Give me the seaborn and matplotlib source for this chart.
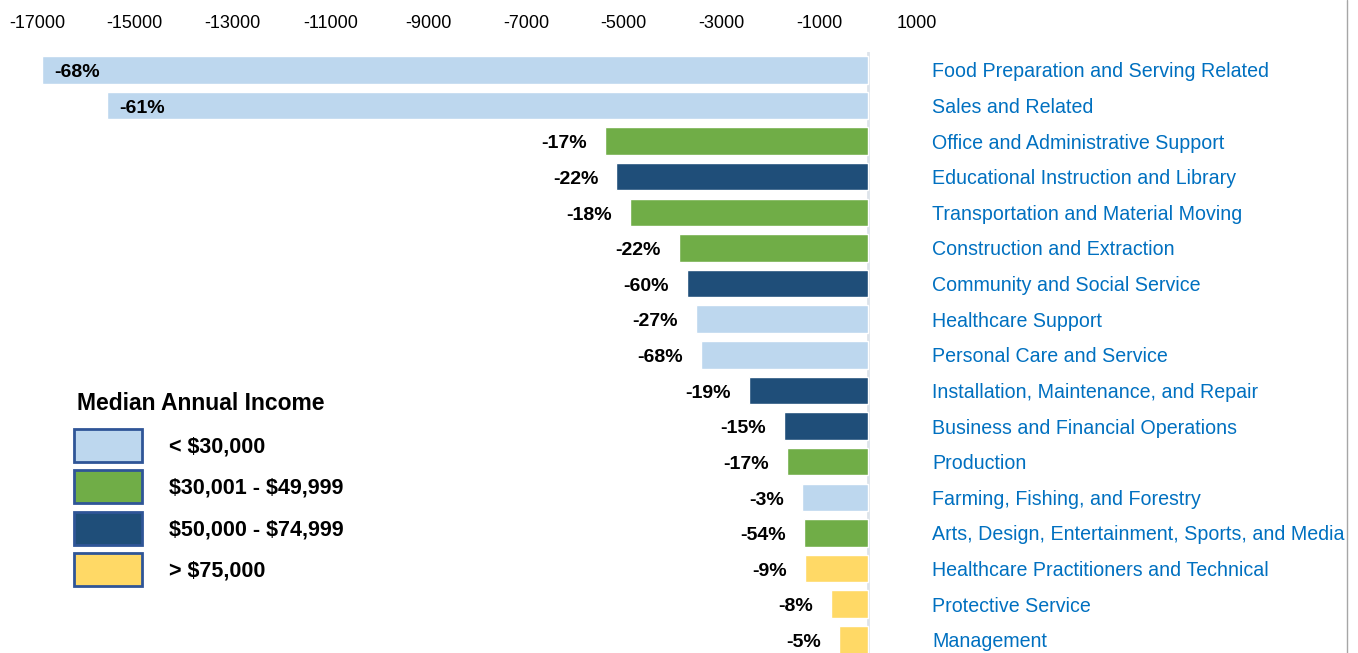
import matplotlib
matplotlib.use("Agg")
import matplotlib.pyplot as plt
from matplotlib import font_manager
from matplotlib.patches import Patch
from matplotlib.lines import Line2D
import seaborn as sns
import pandas as pd

occupations = [
    "Food Preparation and Serving Related",
    "Sales and Related",
    "Office and Administrative Support",
    "Educational Instruction and Library",
    "Transportation and Material Moving",
    "Construction and Extraction",
    "Community and Social Service",
    "Healthcare Support",
    "Personal Care and Service",
    "Installation, Maintenance, and Repair",
    "Business and Financial Operations",
    "Production",
    "Farming, Fishing, and Forestry",
    "Arts, Design, Entertainment, Sports, and Media",
    "Healthcare Practitioners and Technical",
    "Protective Service",
    "Management",
]
changes = [-16900, -15570, -5390, -5150, -4880, -3870, -3710, -3530, -3420,
           -2440, -1730, -1660, -1360, -1320, -1300, -760, -600]
pct_labels = ["-68%", "-61%", "-17%", "-22%", "-18%", "-22%", "-60%", "-27%", "-68%",
              "-19%", "-15%", "-17%", "-3%", "-54%", "-9%", "-8%", "-5%"]
income_levels = ["< $30,000", "$30,001 - $49,999", "$50,000 - $74,999", "> $75,000"]
income = [0, 0, 1, 2, 1, 1, 2, 0, 0, 2, 2, 1, 0, 1, 3, 3, 3]
colors = ["#BDD7EE", "#70AD47", "#1F4E79", "#FFD966"]
xticks = list(range(-17000, 1001, 2000))
legend_title = "Median Annual Income"

available = {f.name for f in font_manager.fontManager.ttflist}
narrow = "Liberation Sans Narrow" if "Liberation Sans Narrow" in available else "Liberation Sans"

df = pd.DataFrame({
    "occupation": occupations,
    "change": changes,
    "income": [income_levels[i] for i in income],
})

sns.set_style("white")
plt.rcParams["font.family"] = [narrow, "DejaVu Sans"]

W, H = 1358, 653
fig = plt.figure(figsize=(W / 100, H / 100), dpi=100)
ax = fig.add_axes([0, 0, 917 / W, (H - 52) / H])

sns.barplot(data=df, x="change", y="occupation", hue="income",
            hue_order=income_levels, palette=colors, dodge=False,
            width=0.77, orient="h", ax=ax, legend=False, saturation=1)

ax.set_xlim(-17757, 1000)
ax.set_ylim(16.37, -0.5)
ax.set_xlabel("")
ax.set_ylabel("")
for s in ax.spines.values():
    s.set_visible(False)

ax.xaxis.tick_top()
ax.set_xticks(xticks)
ax.set_xticklabels([str(t) for t in xticks])
ax.tick_params(axis="x", length=0, pad=14.5, labelsize=13, labelcolor="#000000")

ax.yaxis.tick_right()
ax.tick_params(axis="y", length=0, pad=11, labelsize=14.1, labelcolor="#0070C0")
for lab in ax.get_yticklabels():
    lab.set_horizontalalignment("left")

ax.axvline(0, color="#DDE3EA", lw=2, zorder=0)

for i, (v, p) in enumerate(zip(changes, pct_labels)):
    if i < 2:
        ax.annotate(p, (v, i), xytext=(9, -2), textcoords="offset points",
                    ha="left", va="center", fontsize=14, fontweight="bold", color="black")
    else:
        ax.annotate(p, (v, i), xytext=(-13, -2), textcoords="offset points",
                    ha="right", va="center", fontsize=14, fontweight="bold", color="black")

fig.add_artist(Line2D([1346.5 / W] * 2, [0, 1], transform=fig.transFigure,
                      color="#A6A6A6", lw=1))

fig.text(77 / W, 1 - 403 / H, legend_title, ha="left", va="center",
         fontsize=16.5, fontweight="bold", color="black")

handles = [Patch(facecolor=c, edgecolor="#2F5597", lw=2) for c in colors]
legend_labels = [s.replace("$", r"\$") for s in income_levels]
leg = fig.legend(handles, legend_labels,
                 loc="upper left", bbox_to_anchor=(74 / W, 1 - 429 / H),
                 frameon=False, prop={"weight": "bold", "size": 15.5},
                 handlelength=3.16, handleheight=1.985, labelspacing=0.386,
                 handletextpad=1.25, borderpad=0, borderaxespad=0)
for t in leg.get_texts():
    t.set_color("black")

fig.savefig("out.png", dpi=100, facecolor="white")
